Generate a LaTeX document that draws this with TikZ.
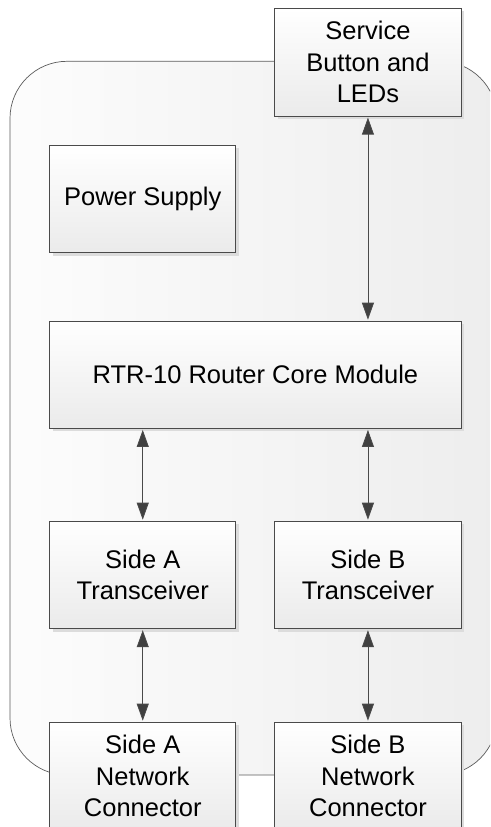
\documentclass[tikz,border=0pt]{standalone}
\usepackage{fontspec}
\setmainfont{Liberation Sans}
\usetikzlibrary{arrows.meta,shadows}
\definecolor{edge}{HTML}{4A4A4A}
\definecolor{tip}{HTML}{404040}
\definecolor{shade}{HTML}{DCDCDC}
\tikzset{
  block/.style={draw=edge, line width=0.9pt, top color=white, bottom color=black!8,
    shade, drop shadow={shadow xshift=3pt, shadow yshift=-3pt, fill=shade, opacity=1},
    align=center, font=\fontsize{25.5}{31.5}\selectfont, inner sep=0pt,
    anchor=north west},
  link/.style={draw=edge, line width=0.8pt,
    {Triangle[length=17pt,width=12pt,fill=tip]}-{Triangle[length=17pt,width=12pt,fill=tip]},
    shorten <=1pt, shorten >=1pt}
}
\begin{document}
\begin{tikzpicture}[x=1pt,y=-1pt]
  \useasboundingbox (0,0) rectangle (490,827);
  \clip (0,0) rectangle (490,827);
  % router enclosure
  \draw[draw=edge!90, line width=0.7pt, rounded corners=57pt,
        left color=black!1, right color=black!7]
    (10,61.3) rectangle (497,775);
  % functional blocks
  \node[block, minimum width=186.4pt, minimum height=107.7pt] (svc) at (274.3,8)
    {Service\\Button and\\LEDs};
  \node[block, minimum width=186pt, minimum height=107.6pt] (psu) at (49.3,144.7)
    {Power Supply};
  \node[block, minimum width=411.4pt, minimum height=107.3pt] (core) at (49.3,320.7)
    {RTR-10 Router Core Module};
  \node[block, minimum width=186pt, minimum height=107.6pt] (txa) at (49.3,520.7)
    {Side A\\Transceiver};
  \node[block, minimum width=186.4pt, minimum height=107.6pt] (txb) at (274.3,520.7)
    {Side B\\Transceiver};
  \node[block, minimum width=186pt, minimum height=107.6pt] (nca) at (49.3,721.7)
    {Side A\\Network\\Connector};
  \node[block, minimum width=186.4pt, minimum height=107.6pt] (ncb) at (274.3,721.7)
    {Side B\\Network\\Connector};
  % connections
  \draw[link] (svc.south) -- (svc.south |- core.north);
  \draw[link] (core.south -| txa.north) -- (txa.north);
  \draw[link] (core.south -| txb.north) -- (txb.north);
  \draw[link] (txa.south) -- (nca.north);
  \draw[link] (txb.south) -- (ncb.north);
\end{tikzpicture}
\end{document}
